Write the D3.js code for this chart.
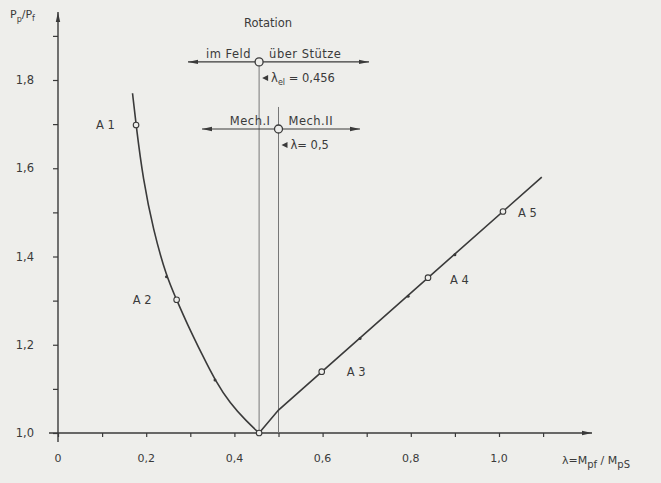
<!DOCTYPE html>
<html>
<head>
<meta charset="utf-8">
<script src="https://cdn.jsdelivr.net/npm/d3@7"></script>
<style>
  body { margin: 0; background: #eeeeeb; }
  svg { display: block; font-family: "DejaVu Sans", sans-serif; }
  text { fill: #3a3a3a; }
</style>
</head>
<body>
<svg width="661" height="483"></svg>
<script>
// curve values (lambda, Pp/Pf)
var leftCurve = [[0.169, 1.770], [0.177, 1.698], [0.193, 1.574], [0.216, 1.460], [0.246, 1.354],
                 [0.269, 1.302], [0.292, 1.249], [0.329, 1.173], [0.356, 1.120], [0.390, 1.067],
                 [0.428, 1.026], [0.456, 1.0]];
var rightCurve = [[0.456, 1.0], [0.500, 1.052], [1.097, 1.58]];
var pointNames = ["A1", "A2", "A3", "A4", "A5"];
var pointLambda = [0.177, 0.269, 0.598, 0.839, 1.009];
var pointP = [1.698, 1.302, 1.139, 1.352, 1.502];
var hatchLambda = [0.246, 0.356, 0.685, 0.794, 0.90];
var hatchP = [1.354, 1.120, 1.214, 1.310, 1.404];
var xTicks = [0, 0.1, 0.2, 0.3, 0.4, 0.5, 0.6, 0.7, 0.8, 0.9, 1.0, 1.1];
var yTicks = [1.0, 1.1, 1.2, 1.3, 1.4, 1.5, 1.6, 1.7, 1.8, 1.9];
var xLabels = ["0", "0,2", "0,4", "0,6", "0,8", "1,0"];
var yLabels = ["1,0", "1,2", "1,4", "1,6", "1,8"];
var lambdaEl = 0.456, lambdaMech = 0.5;
var rowElP = 1.841, rowMechP = 1.689;

var svg = d3.select("svg"),
    ink = "#3a3a3a",
    x = d3.scaleLinear().domain([0, 1]).range([58, 499]),
    y = d3.scaleLinear().domain([1, 1.8]).range([433, 80]);

var defs = svg.append("defs");
defs.append("marker").attr("id", "arr")
    .attr("viewBox", "0 0 10 6").attr("refX", 10).attr("refY", 3)
    .attr("markerWidth", 10).attr("markerHeight", 6).attr("orient", "auto-start-reverse")
    .attr("markerUnits", "userSpaceOnUse")
  .append("path").attr("d", "M0,0.8L10,3L0,5.2Z").attr("fill", ink);

// axes
var xAxis = svg.append("g").attr("transform", "translate(0," + y(1) + ")")
    .call(d3.axisBottom(x).tickValues(xTicks).tickSize(4).tickFormat(""));
var yAxis = svg.append("g").attr("transform", "translate(" + x(0) + ",0)")
    .call(d3.axisLeft(y).tickValues(yTicks).tickSize(5).tickFormat(""));
svg.selectAll(".domain").remove();
svg.selectAll(".tick line").attr("stroke", ink).attr("stroke-width", 1.2);

svg.append("line").attr("x1", 49).attr("x2", 592).attr("y1", y(1)).attr("y2", y(1))
    .attr("stroke", ink).attr("stroke-width", 1.4).attr("marker-end", "url(#arr)");
svg.append("line").attr("x1", x(0)).attr("x2", x(0)).attr("y1", 442).attr("y2", 12)
    .attr("stroke", ink).attr("stroke-width", 1.4).attr("marker-end", "url(#arr)");

svg.selectAll(".xl").data(xLabels).enter().append("text")
    .attr("x", function(d, i) { return x(i * 0.2); }).attr("y", 462)
    .attr("text-anchor", "middle").attr("font-size", 11).text(function(d) { return d; });
svg.selectAll(".yl").data(yLabels).enter().append("text")
    .attr("x", 34).attr("y", function(d, i) { return y(1 + i * 0.2) + 4; })
    .attr("text-anchor", "end").attr("font-size", 11.5).text(function(d) { return d; });

var yt = svg.append("text").attr("x", 10).attr("y", 18).attr("font-size", 11);
yt.append("tspan").text("P");
yt.append("tspan").attr("font-size", 8).attr("dy", 4).text("p");
yt.append("tspan").attr("dy", -4).text("/P");
yt.append("tspan").attr("font-size", 8).attr("dy", 3).text("f");

var xt = svg.append("text").attr("x", 562).attr("y", 464).attr("font-size", 11);
xt.append("tspan").text("λ=M");
xt.append("tspan").attr("font-size", 10).attr("dy", 4).text("pf");
xt.append("tspan").attr("dy", -4).text(" / M");
xt.append("tspan").attr("font-size", 10).attr("dy", 4).text("pS");

// vertical reference lines
svg.append("line").attr("x1", x(lambdaEl)).attr("x2", x(lambdaEl))
    .attr("y1", y(rowElP) + 4).attr("y2", y(1)).attr("stroke", "#777").attr("stroke-width", 1);
svg.append("line").attr("x1", x(lambdaMech)).attr("x2", x(lambdaMech))
    .attr("y1", y(rowMechP) - 22).attr("y2", y(1)).attr("stroke", "#777").attr("stroke-width", 1);

// annotation rows
function row(lam, p, x0, x1, leftText, rightText, note) {
  var yy = y(p), cx = x(lam);
  svg.append("line").attr("x1", cx - 4).attr("x2", x0).attr("y1", yy).attr("y2", yy)
      .attr("stroke", ink).attr("stroke-width", 1.2).attr("marker-end", "url(#arr)");
  svg.append("line").attr("x1", cx + 4).attr("x2", x1).attr("y1", yy).attr("y2", yy)
      .attr("stroke", ink).attr("stroke-width", 1.2).attr("marker-end", "url(#arr)");
  svg.append("circle").attr("cx", cx).attr("cy", yy).attr("r", 4)
      .attr("fill", "#eeeeeb").attr("stroke", ink).attr("stroke-width", 1.3);
  svg.append("text").attr("x", cx - 8).attr("y", yy - 4).attr("text-anchor", "end")
      .attr("font-size", 11.5).attr("letter-spacing", 0.5).text(leftText);
  svg.append("text").attr("x", cx + 10).attr("y", yy - 4).attr("font-size", 11.5)
      .attr("letter-spacing", 0.5).text(rightText);
  svg.append("path").attr("d", "M" + (cx + 3) + "," + (yy + 16) + "l6,-3l0,6z").attr("fill", ink);
  var t = svg.append("text").attr("x", cx + 12).attr("y", yy + 20).attr("font-size", 11.5);
  t.append("tspan").text("λ");
  if (note[0]) t.append("tspan").attr("font-size", 8).attr("dy", 3).text(note[0]);
  t.append("tspan").attr("dy", note[0] ? -3 : 0).text(note[1]);
}
svg.append("text").attr("x", 268).attr("y", 27).attr("text-anchor", "middle")
    .attr("font-size", 11.5).text("Rotation");
row(lambdaEl, rowElP, 188, 369, "im Feld", "über Stütze", ["el", " = 0,456"]);
row(lambdaMech, rowMechP, 202, 360, "Mech.I", "Mech.II", ["", "= 0,5"]);

// curves
var line = d3.line().x(function(d) { return x(d[0]); }).y(function(d) { return y(d[1]); });
svg.append("path").datum(leftCurve).attr("d", line.curve(d3.curveBasis))
    .attr("fill", "none").attr("stroke", ink).attr("stroke-width", 1.6);
svg.append("path").datum(rightCurve).attr("d", line.curve(d3.curveLinear))
    .attr("fill", "none").attr("stroke", ink).attr("stroke-width", 1.6);

svg.selectAll(".hatch").data(hatchLambda).enter().append("circle")
    .attr("cx", function(d) { return x(d); }).attr("cy", function(d, i) { return y(hatchP[i]); })
    .attr("r", 1.5).attr("fill", ink);

svg.selectAll(".pt").data(pointNames).enter().append("circle")
    .attr("cx", function(d, i) { return x(pointLambda[i]); })
    .attr("cy", function(d, i) { return y(pointP[i]); })
    .attr("r", 2.8).attr("fill", "#eeeeeb").attr("stroke", ink).attr("stroke-width", 1.1);
svg.append("circle").attr("cx", x(lambdaEl)).attr("cy", y(1)).attr("r", 2.8)
    .attr("fill", "#eeeeeb").attr("stroke", ink).attr("stroke-width", 1.1);

var labelDx = [-40, -44, 25, 22, 15], labelDy = [4, 4, 4, 6, 6];
svg.selectAll(".pl").data(pointNames).enter().append("text")
    .attr("x", function(d, i) { return x(pointLambda[i]) + labelDx[i]; })
    .attr("y", function(d, i) { return y(pointP[i]) + labelDy[i]; })
    .attr("font-size", 11.5).text(function(d) { return d.replace("A", "A "); });
</script>
</body>
</html>
